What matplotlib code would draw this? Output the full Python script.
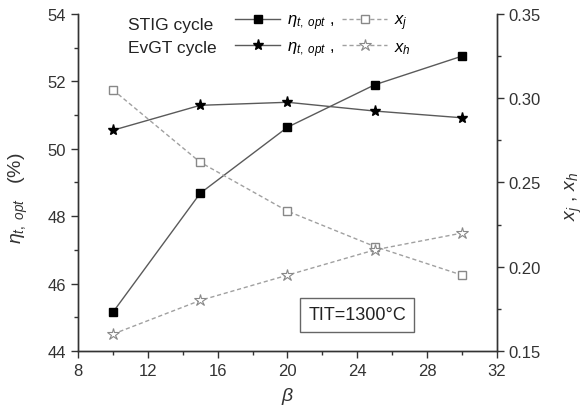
import matplotlib
matplotlib.use("Agg")
import matplotlib.pyplot as plt
from matplotlib.ticker import MultipleLocator

plt.rcParams["font.family"] = ["Liberation Sans", "DejaVu Sans"]
plt.rcParams["mathtext.fontset"] = "custom"
plt.rcParams["mathtext.rm"] = "Liberation Sans"
plt.rcParams["mathtext.it"] = "Liberation Sans:italic"

# data
beta = [10, 15, 20, 25, 30]
stig_eta = [45.15, 48.68, 50.64, 51.90, 52.75]
evgt_eta = [50.55, 51.29, 51.38, 51.12, 50.92]
stig_xj = [0.305, 0.262, 0.233, 0.212, 0.195]
evgt_xh = [0.160, 0.180, 0.195, 0.210, 0.220]

fig = plt.figure(figsize=(5.85, 4.14), dpi=100)
ax = fig.add_axes([0.1333, 0.1498, 0.7163, 0.8140])
ax2 = ax.twinx()

dark = "#5a5a5a"
light = "#a0a0a0"

l1, = ax.plot(beta, stig_eta, "-", color=dark, lw=1, marker="s", ms=6,
              mfc="black", mec="black")
l2, = ax.plot(beta, evgt_eta, "-", color=dark, lw=1, marker="*", ms=8,
              mfc="black", mec="black")
l3, = ax2.plot(beta, stig_xj, "--", color=light, lw=1, dashes=(3, 2),
               marker="s", ms=5.5, mfc="white", mec="#888888")
l4, = ax2.plot(beta, evgt_xh, "--", color=light, lw=1, dashes=(3, 2),
               marker="*", ms=9, mfc="white", mec="#888888", mew=0.8)

ax.set_xlim(8, 32)
ax.set_ylim(44, 54)
ax2.set_ylim(0.15, 0.35)
ax.xaxis.set_major_locator(MultipleLocator(4))
ax.xaxis.set_minor_locator(MultipleLocator(2))
ax.yaxis.set_major_locator(MultipleLocator(2))
ax.yaxis.set_minor_locator(MultipleLocator(1))
ax2.yaxis.set_major_locator(MultipleLocator(0.05))
ax2.yaxis.set_minor_locator(MultipleLocator(0.025))
ax2.set_yticklabels([f"{v:.2f}" for v in ax2.get_yticks()])

for a in (ax, ax2):
    a.spines["top"].set_visible(False)
    for s in a.spines.values():
        s.set_color("#333333")
        s.set_linewidth(1)
    a.tick_params(which="major", direction="out", length=5, width=1,
                  labelsize=12, colors="#333333", labelcolor="#333333")
    a.tick_params(which="minor", direction="out", length=3, width=1,
                  colors="#333333")

ax.set_xlabel(r"$\beta$", fontsize=14, labelpad=5, color="#333333")
ax.set_ylabel(r"$\eta_{t,\ opt}$   (%)", fontsize=14, color="#333333")
ax.yaxis.set_label_coords(-0.115, 0.455)
ax2.set_ylabel(r"$x_j$ , $x_h$", fontsize=14, color="#333333")
ax2.yaxis.set_label_coords(1.16, 0.46)

# legend
ax.text(0.119, 0.97, "STIG cycle", transform=ax.transAxes, fontsize=12.5,
        va="center", color="#222222")
ax.text(0.119, 0.902, "EvGT cycle", transform=ax.transAxes, fontsize=12.5,
        va="center", color="#222222")
leg = ax.legend([l1, l2, l3, l4],
                [r"$\eta_{t,\ opt}$ ,", r"$\eta_{t,\ opt}$ ,", r"$x_j$", r"$x_h$"],
                ncol=2, loc="center left", bbox_to_anchor=(0.355, 0.936),
                frameon=False, fontsize=12, handlelength=2.7,
                handletextpad=0.4, columnspacing=0.5, labelspacing=0.4,
                borderpad=0)

ax.text(0.666, 0.107, u"TIT=1300\u00b0C", transform=ax.transAxes, fontsize=13,
        ha="center", va="center", color="#222222",
        bbox=dict(boxstyle="square,pad=0.45", fc="white", ec="#666666", lw=1))

fig.savefig("out.png", dpi=100)
